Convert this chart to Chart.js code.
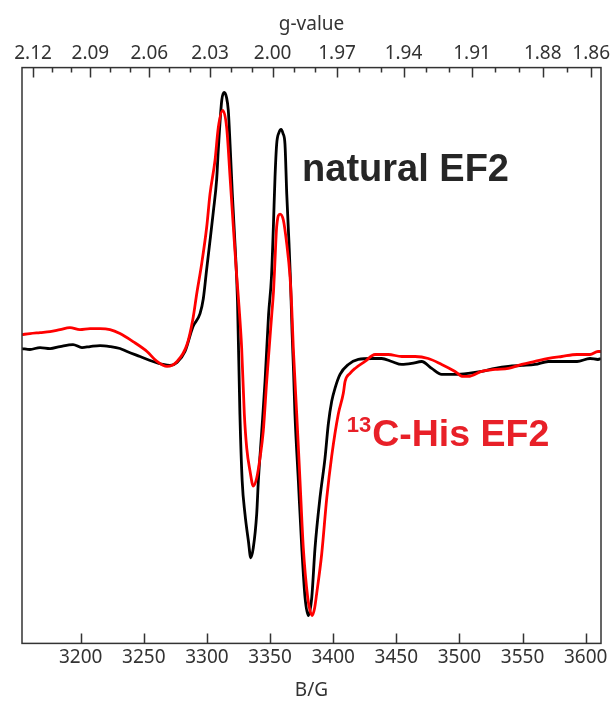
<!DOCTYPE html>
<html>
<head>
<meta charset="utf-8">
<script src="https://cdn.jsdelivr.net/npm/chart.js@4.4.1/dist/chart.umd.min.js"></script>
<style>
  html, body { margin: 0; padding: 0; background: #fff; }
  #wrap { width: 616px; height: 702px; }
</style>
</head>
<body>
<div id="wrap"><canvas id="epr" width="616" height="702"></canvas></div>
<script>
/* ===== DATA ===== */
// magnetic field (G) and derivative signal (arb. units)
const fieldNatural = [3153.5,3159.8,3167.8,3175.7,3183.6,3193.9,3201.0,3207.4,3215.3,3223.2,3231.1,3236.7,3247.0,3257.3,3265.2,3270.7,3276.3,3282.6,3288.9,3294.5,3297.1,3299.8,3302.4,3305.0,3307.7,3309.0,3311.7,3313.7,3315.5,3316.9,3318.3,3320.1,3322.2,3324.2,3326.1,3327.9,3330.1,3332.8,3334.7,3336.7,3339.4,3340.7,3343.4,3346.0,3348.8,3351.1,3352.6,3353.9,3355.2,3357.1,3358.7,3360.2,3361.8,3363.2,3365.0,3366.2,3367.4,3368.6,3369.7,3372.4,3375.1,3377.7,3380.3,3383.0,3385.6,3389.5,3393.5,3396.1,3398.8,3401.4,3405.4,3412.0,3419.9,3430.5,3438.4,3446.3,3454.3,3462.2,3470.1,3478.0,3485.9,3496.5,3507.0,3517.6,3528.2,3538.7,3549.3,3559.8,3570.4,3581.0,3593.1,3603.4,3609.7,3612.1];
const signalNatural = [0,-1,1,0,2,4,1,2,3,2,0,-3,-8,-13,-16,-17,-14,-3,22,35,50,80,108,137,170,200,249,257,252,239,205,155,105,47,-66,-133,-166,-193,-210,-200,-166,-133,-83,-33,34,72,122,172,205,217,220,216,205,155,105,67,17,-23,-66,-133,-200,-250,-268,-250,-200,-150,-110,-76,-53,-40,-26,-16,-11,-10,-10,-13,-16,-15,-13,-20,-26,-26,-25,-23,-20,-18,-17,-16,-13,-13,-13,-10,-11,-10];

const field13C = [3153.5,3159.8,3167.8,3175.7,3183.6,3191.5,3199.4,3207.4,3215.3,3223.2,3231.1,3241.4,3252.5,3260.4,3268.4,3276.3,3284.2,3288.9,3291.9,3295.8,3299.8,3302.4,3306.4,3309.0,3312.5,3315.6,3318.3,3320.9,3323.6,3325.4,3327.5,3329.6,3331.5,3334.1,3336.7,3339.4,3342.0,3344.6,3347.3,3351.3,3352.7,3353.9,3355.2,3357.9,3360.5,3363.2,3365.8,3367.1,3368.4,3371.1,3373.7,3376.3,3379.8,3381.6,3383.4,3385.2,3386.9,3390.9,3394.9,3398.8,3404.0,3408.0,3409.4,3413.3,3417.3,3425.2,3433.1,3443.6,3454.3,3464.8,3475.3,3485.9,3496.5,3502.8,3507.0,3517.6,3528.2,3538.7,3549.3,3559.8,3570.4,3581.0,3593.1,3603.4,3609.7,3612.1];
const signal13C = [14,15,16,17,19,21,19,20,20,19,15,7,-3,-13,-18,-13,4,30,55,85,122,155,189,222,239,222,172,122,72,42,0,-66,-100,-123,-138,-130,-110,-83,-33,34,57,89,122,135,129,105,72,42,0,-66,-133,-200,-250,-263,-268,-261,-246,-206,-150,-108,-66,-45,-33,-25,-20,-13,-6,-6,-8,-8,-10,-16,-23,-28,-28,-23,-21,-20,-16,-13,-10,-8,-6,-6,-3,-3];

const fieldTicks = [3200, 3250, 3300, 3350, 3400, 3450, 3500, 3550, 3600];
const gLabeled = [2.12, 2.09, 2.06, 2.03, 2.00, 1.97, 1.94, 1.91, 1.88, 1.86];
const gMinor = [2.11, 2.10, 2.08, 2.07, 2.05, 2.04, 2.02, 2.01, 1.99, 1.98, 1.96, 1.95, 1.93, 1.92, 1.90, 1.89, 1.87];
const G_TIMES_B = 6704;   // g * B(G) at ~9.38 GHz

const fieldRange = [3153.5, 3612.1];
const signalRange = [-296, 282];

// label anchors, data units
const labelNatural = { x: 3375.3, y: 168 };
const label13C = { x: 3410.7, y: -98 };

/* ===== CHART ===== */
const tickFont = { family: "'Noto Sans', 'Open Sans', sans-serif", size: 19 };
const axisColor = '#333';

const frameTicks = {
    id: 'frameTicks',
    afterDatasetsDraw(chart) {
        const { ctx, chartArea: a, scales } = chart;
        ctx.save();
        ctx.strokeStyle = axisColor;
        ctx.lineWidth = 1.5;
        ctx.strokeRect(a.left, a.top, a.right - a.left, a.bottom - a.top);
        ctx.beginPath();
        scales.x.ticks.forEach(t => {
            const px = Math.round(scales.x.getPixelForValue(t.value)) + 0.5;
            ctx.moveTo(px, a.bottom); ctx.lineTo(px, a.bottom - 10);
        });
        scales.g.ticks.forEach(t => {
            const px = Math.round(scales.g.getPixelForValue(t.value)) + 0.5;
            ctx.moveTo(px, a.top); ctx.lineTo(px, a.top + (t.major ? 10 : 5));
        });
        ctx.stroke();

        // series labels
        ctx.textBaseline = 'alphabetic';
        ctx.textAlign = 'left';
        ctx.font = "bold 38px 'Liberation Sans', Arial, sans-serif";
        ctx.fillStyle = '#262626';
        ctx.fillText('natural EF2', scales.x.getPixelForValue(labelNatural.x), scales.y.getPixelForValue(labelNatural.y));

        const lx = scales.x.getPixelForValue(label13C.x), ly = scales.y.getPixelForValue(label13C.y);
        ctx.fillStyle = 'rgb(232,32,40)';
        ctx.font = "bold 22px 'Liberation Sans', Arial, sans-serif";
        ctx.fillText('13', lx, ly - 14);
        const sw = ctx.measureText('13').width;
        ctx.font = "bold 37.5px 'Liberation Sans', Arial, sans-serif";
        ctx.fillText('C-His EF2', lx + sw + 1, ly);
        ctx.restore();
    }
};

const gTicks = [...gLabeled.map(g => ({ g, major: true })), ...gMinor.map(g => ({ g, major: false }))]
    .sort((p, q) => q.g - p.g);

new Chart(document.getElementById('epr'), {
    type: 'line',
    data: {
        datasets: [
            { label: '13C-His EF2', data: field13C.map((b, i) => ({ x: b, y: signal13C[i] })), borderColor: '#ff0000', borderWidth: 2.8, pointRadius: 0, cubicInterpolationMode: 'monotone', order: 0 },
            { label: 'natural EF2', data: fieldNatural.map((b, i) => ({ x: b, y: signalNatural[i] })), borderColor: '#000000', borderWidth: 2.8, pointRadius: 0, cubicInterpolationMode: 'monotone', order: 1 }
        ]
    },
    options: {
        responsive: false,
        animation: false,
        devicePixelRatio: 1,
        layout: { padding: { left: 22, right: 15, top: 6, bottom: 0 } },
        plugins: { legend: { display: false }, tooltip: { enabled: false } },
        scales: {
            x: {
                type: 'linear', position: 'bottom',
                min: fieldRange[0], max: fieldRange[1],
                afterBuildTicks: s => { s.ticks = fieldTicks.map(v => ({ value: v })); },
                ticks: { autoSkip: false, maxRotation: 0, padding: 3, color: axisColor, font: tickFont, callback: v => String(v) },
                grid: { display: false, drawTicks: false },
                border: { display: false },
                title: { display: true, text: 'B/G', color: axisColor, font: tickFont, padding: { top: 7, bottom: 0 } }
            },
            g: {
                type: 'linear', position: 'top',
                min: fieldRange[0], max: fieldRange[1],
                afterBuildTicks: s => { s.ticks = gTicks.map(t => ({ value: G_TIMES_B / t.g, g: t.g, major: t.major })); },
                ticks: { autoSkip: false, maxRotation: 0, padding: 3, color: axisColor, font: tickFont,
                         callback: (v, i, ticks) => ticks[i].major ? ticks[i].g.toFixed(2) : '' },
                grid: { display: false, drawTicks: false },
                border: { display: false },
                title: { display: true, text: 'g-value', color: axisColor, font: tickFont, padding: { top: 7, bottom: 3 } }
            },
            y: {
                type: 'linear', display: false,
                min: signalRange[0], max: signalRange[1]
            }
        }
    },
    plugins: [frameTicks]
});
</script>
</body>
</html>
